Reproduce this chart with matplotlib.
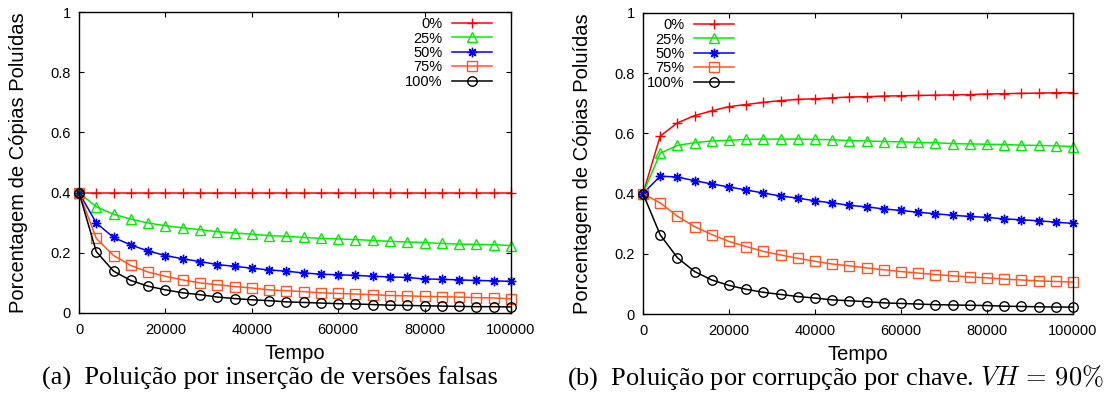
import numpy as np
import matplotlib
matplotlib.use("Agg")
import matplotlib.pyplot as plt

plt.rcParams['font.family'] = ['Liberation Sans', 'DejaVu Sans']
plt.rcParams['mathtext.fontset'] = 'cm'

tempo = list(range(0, 100001, 4000))
labels = ['0%', '25%', '50%', '75%', '100%']

# Panel (a): Poluição por inserção de versões falsas
a_0 = [0.4] * 26
a_25 = [0.400, 0.353, 0.328, 0.312, 0.299, 0.290, 0.283, 0.277, 0.270, 0.266, 0.262, 0.257, 0.255,
        0.251, 0.248, 0.246, 0.244, 0.241, 0.238, 0.236, 0.234, 0.231, 0.229, 0.228, 0.227, 0.224]
a_50 = [0.400, 0.299, 0.251, 0.226, 0.206, 0.191, 0.180, 0.171, 0.161, 0.155, 0.149, 0.143, 0.139,
        0.133, 0.129, 0.127, 0.125, 0.122, 0.120, 0.118, 0.113, 0.112, 0.110, 0.108, 0.107, 0.105]
a_75 = [0.400, 0.248, 0.191, 0.158, 0.136, 0.122, 0.110, 0.100, 0.094, 0.088, 0.083, 0.077, 0.074,
        0.071, 0.067, 0.065, 0.063, 0.061, 0.058, 0.057, 0.055, 0.054, 0.053, 0.051, 0.050, 0.047]
a_100 = [0.400, 0.204, 0.139, 0.108, 0.089, 0.077, 0.067, 0.061, 0.053, 0.048, 0.044, 0.041, 0.037,
         0.035, 0.033, 0.031, 0.030, 0.028, 0.026, 0.025, 0.024, 0.023, 0.022, 0.021, 0.021, 0.020]

# Panel (b): Poluição por corrupção por chave, VH = 90%
b_0 = [0.400, 0.591, 0.635, 0.659, 0.675, 0.689, 0.696, 0.703, 0.709, 0.713, 0.715, 0.718, 0.721,
       0.722, 0.724, 0.725, 0.726, 0.727, 0.728, 0.729, 0.731, 0.732, 0.733, 0.734, 0.735, 0.735]
b_25 = [0.400, 0.534, 0.560, 0.569, 0.575, 0.577, 0.580, 0.581, 0.581, 0.581, 0.580, 0.579, 0.576,
        0.575, 0.573, 0.572, 0.570, 0.569, 0.566, 0.565, 0.564, 0.563, 0.561, 0.560, 0.559, 0.556]
b_50 = [0.400, 0.458, 0.455, 0.443, 0.432, 0.422, 0.412, 0.402, 0.392, 0.385, 0.376, 0.369, 0.361,
        0.356, 0.349, 0.344, 0.338, 0.333, 0.328, 0.324, 0.321, 0.316, 0.313, 0.310, 0.305, 0.301]
b_75 = [0.400, 0.369, 0.325, 0.290, 0.264, 0.241, 0.224, 0.208, 0.196, 0.185, 0.175, 0.166, 0.160,
        0.153, 0.147, 0.141, 0.136, 0.131, 0.127, 0.123, 0.120, 0.116, 0.113, 0.110, 0.108, 0.106]
b_100 = [0.400, 0.263, 0.187, 0.141, 0.113, 0.095, 0.082, 0.072, 0.065, 0.058, 0.053, 0.047, 0.044,
         0.041, 0.037, 0.035, 0.033, 0.031, 0.030, 0.029, 0.028, 0.026, 0.025, 0.024, 0.023, 0.023]

xticks = [0, 20000, 40000, 60000, 80000, 100000]
yticks = [0, 0.2, 0.4, 0.6, 0.8, 1]
ytick_labels = ['0', '0.2', '0.4', '0.6', '0.8', '1']

colors = ['#ff0000', '#00ee00', '#0000ff', '#ff5522', '#000000']
markers = ['+', '^', (8, 2, 0), 's', 'o']

W, H = 1111, 394
fig = plt.figure(figsize=(W / 100, H / 100), dpi=100)

def px_axes(x0, x1, y0, y1):
    return fig.add_axes([x0 / W, (H - y1) / H, (x1 - x0) / W, (y1 - y0) / H])

ax_a = px_axes(79, 511, 12, 313)
ax_b = px_axes(643, 1073, 13, 314)

def draw(ax, series, legend_x):
    for s, lab, c, m in zip(series, labels, colors, markers):
        ax.plot(tempo, s, color=c, marker=m, markersize=6.8, markerfacecolor='none',
                markeredgecolor=c, markeredgewidth=1.0, linewidth=1.1, label=lab, clip_on=False)
    ax.set_xlim(0, 100000)
    ax.set_ylim(0, 1)
    ax.set_xticks(xticks)
    ax.set_xticklabels([str(t) for t in xticks])
    ax.set_yticks(yticks)
    ax.set_yticklabels(ytick_labels)
    ax.tick_params(direction='in', length=3.5, width=0.8, top=True, right=True,
                   labelsize=10.5, colors='black')
    ax.tick_params(axis='x', pad=7)
    ax.tick_params(axis='y', pad=6)
    for sp in ax.spines.values():
        sp.set_linewidth(1.0)
    ax.set_xlabel('Tempo', fontsize=14.5)
    ax.set_ylabel('Porcentagem de Cópias Poluídas', fontsize=14.5)
    ax.xaxis.set_label_coords(0.5, -0.103)
    ax.yaxis.label.set_va('center')
    ax.yaxis.set_label_coords(-0.141, 0.5)
    ax.legend(loc='upper right', bbox_to_anchor=(legend_x, 0.983), markerfirst=False,
              frameon=False, fontsize=10.5, handlelength=2.75, handletextpad=0.65,
              labelspacing=0.03, borderpad=0, borderaxespad=0)

draw(ax_a, [a_0, a_25, a_50, a_75, a_100], 0.956)
draw(ax_b, [b_0, b_25, b_50, b_75, b_100], 0.2116)

fig.text(270 / W, (H - 385) / H, '(a)  Poluição por inserção de versões falsas',
         family='Liberation Serif', fontsize=19, ha='center', va='baseline')
fig.text(835 / W, (H - 385) / H, r'(b)  Poluição por corrupção por chave. $VH\,=\,90\%$',
         family='Liberation Serif', fontsize=19, ha='center', va='baseline')

fig.savefig('out.png', dpi=100)
